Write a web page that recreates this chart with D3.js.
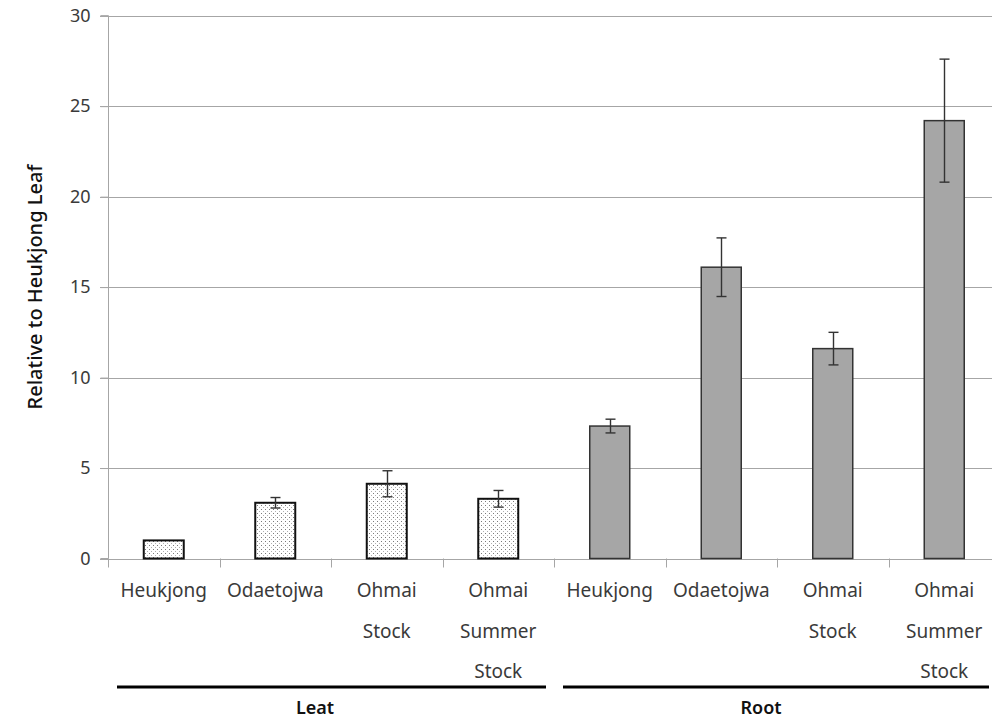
<!DOCTYPE html>
<html>
<head>
<meta charset="utf-8">
<script src="https://cdn.jsdelivr.net/npm/d3@7"></script>
<style>
  html, body { margin: 0; padding: 0; background: #fff; }
  svg { display: block; }
  text { font-family: "Noto Sans", "Open Sans", sans-serif; }
</style>
</head>
<body>
<svg id="chart" width="992" height="718"></svg>
<script>
// ---- data ----
const categories = [
  "Heukjong|Leaf", "Odaetojwa|Leaf", "Ohmai Stock|Leaf", "Ohmai Summer Stock|Leaf",
  "Heukjong|Root", "Odaetojwa|Root", "Ohmai Stock|Root", "Ohmai Summer Stock|Root"
];
const labelLines = [
  ["Heukjong"], ["Odaetojwa"], ["Ohmai", "Stock"], ["Ohmai", "Summer", "Stock"],
  ["Heukjong"], ["Odaetojwa"], ["Ohmai", "Stock"], ["Ohmai", "Summer", "Stock"]
];
const values = [1.0, 3.08, 4.13, 3.30, 7.32, 16.1, 11.6, 24.2];
const errors = [0, 0.29, 0.72, 0.46, 0.38, 1.62, 0.9, 3.4];
const tissue = ["Leaf", "Leaf", "Leaf", "Leaf", "Root", "Root", "Root", "Root"];
const groups = ["Leat", "Root"];
const groupMembers = [[0, 3], [4, 7]];
const yTicks = [0, 5, 10, 15, 20, 25, 30];
const yTitle = "Relative to Heukjong Leaf";

// ---- layout ----
const svg = d3.select("#chart");
const x = d3.scaleBand().domain(categories).range([108, 1000]).paddingInner(0).paddingOuter(0);
const y = d3.scaleLinear().domain([0, 30]).range([558.5, 15.7]);
const barW = 40;

// defs: dotted pattern
const defs = svg.append("defs");
const pat = defs.append("pattern").attr("id", "dots").attr("patternUnits", "userSpaceOnUse")
  .attr("width", 4).attr("height", 4);
pat.append("rect").attr("width", 4).attr("height", 4).attr("fill", "#fff");
pat.append("rect").attr("x", 1).attr("y", 1).attr("width", 1).attr("height", 1).attr("fill", "#7a7a7a");
pat.append("rect").attr("x", 3).attr("y", 3).attr("width", 1).attr("height", 1).attr("fill", "#b0b0b0");

// gridlines
svg.append("g").selectAll("line").data(yTicks.filter(d => d > 0)).join("line")
  .attr("x1", 100).attr("x2", 992)
  .attr("y1", d => Math.round(y(d)) + 0.5).attr("y2", d => Math.round(y(d)) + 0.5)
  .attr("stroke", "#a6a6a6").attr("stroke-width", 1.2);

// y axis
const yAxis = d3.axisLeft(y).tickValues(yTicks).tickSize(8).tickPadding(10);
const gy = svg.append("g").attr("transform", "translate(108.5,0)").call(yAxis);
gy.select(".domain").attr("stroke", "#a6a6a6").attr("d", `M-8,${y(0)}H0V${y(30)}H-8`);
gy.selectAll(".tick line").attr("stroke", "#a6a6a6");
gy.selectAll(".tick text").attr("font-size", 18).attr("fill", "#3a3a3a");

// x axis baseline and ticks
const xAxisG = svg.append("g");
xAxisG.append("line").attr("x1", 100).attr("x2", 992)
  .attr("y1", Math.round(y(0)) + 0.5).attr("y2", Math.round(y(0)) + 0.5)
  .attr("stroke", "#a6a6a6").attr("stroke-width", 1.2);
xAxisG.selectAll("line.tk").data(categories).join("line").attr("class", "tk")
  .attr("x1", d => Math.round(x(d)) + 0.5).attr("x2", d => Math.round(x(d)) + 0.5)
  .attr("y1", y(0)).attr("y2", y(0) + 9)
  .attr("stroke", "#a6a6a6");

// bars
svg.append("g").selectAll("rect").data(categories).join("rect")
  .attr("x", d => x(d) + (x.bandwidth() - barW) / 2)
  .attr("width", barW)
  .attr("y", (d, i) => y(values[i]))
  .attr("height", (d, i) => y(0) - y(values[i]))
  .attr("fill", (d, i) => tissue[i] === "Leaf" ? "url(#dots)" : "#a6a6a6")
  .attr("stroke", (d, i) => tissue[i] === "Leaf" ? "#111" : "#333")
  .attr("stroke-width", (d, i) => tissue[i] === "Leaf" ? 2 : 1.5);

// error bars
const eg = svg.append("g").attr("stroke", "#333").attr("stroke-width", 1.4);
categories.forEach((c, i) => {
  if (errors[i] <= 0) return;
  const cx = Math.round(x(c) + x.bandwidth() / 2) + 0.5;
  const top = y(values[i] + errors[i]), bot = y(values[i] - errors[i]);
  eg.append("line").attr("x1", cx).attr("x2", cx).attr("y1", top).attr("y2", bot);
  eg.append("line").attr("x1", cx - 5).attr("x2", cx + 5).attr("y1", top).attr("y2", top);
  eg.append("line").attr("x1", cx - 5).attr("x2", cx + 5).attr("y1", bot).attr("y2", bot);
});

// category labels
const cl = svg.append("g");
categories.forEach((c, i) => {
  const cx = x(c) + x.bandwidth() / 2;
  const t = cl.append("text").attr("text-anchor", "middle").attr("font-size", 19).attr("fill", "#3a3a3a");
  labelLines[i].forEach((ln, j) => {
    t.append("tspan").attr("x", cx).attr("y", 597 + j * 40.5).text(ln);
  });
});

// group lines and labels
groups.forEach((g, k) => {
  const [a, b] = groupMembers[k];
  const x0 = x(categories[a]) + 9, x1 = Math.min(x(categories[b]) + x.bandwidth() - 8, 989);
  svg.append("line").attr("x1", x0).attr("x2", x1).attr("y1", 687).attr("y2", 687)
    .attr("stroke", "#000").attr("stroke-width", 3.2);
  const gc = (x(categories[a]) + x(categories[b]) + x.bandwidth()) / 2;
  svg.append("text").attr("x", gc - 16).attr("y", 714).attr("text-anchor", "middle")
    .attr("font-size", 18).attr("font-weight", 600).attr("fill", "#111").text(g);
});

// y title
svg.append("text").attr("transform", "translate(42,287) rotate(-90)")
  .attr("text-anchor", "middle").attr("font-size", 20).attr("font-weight", 500)
  .attr("fill", "#111").text(yTitle);
</script>
</body>
</html>
